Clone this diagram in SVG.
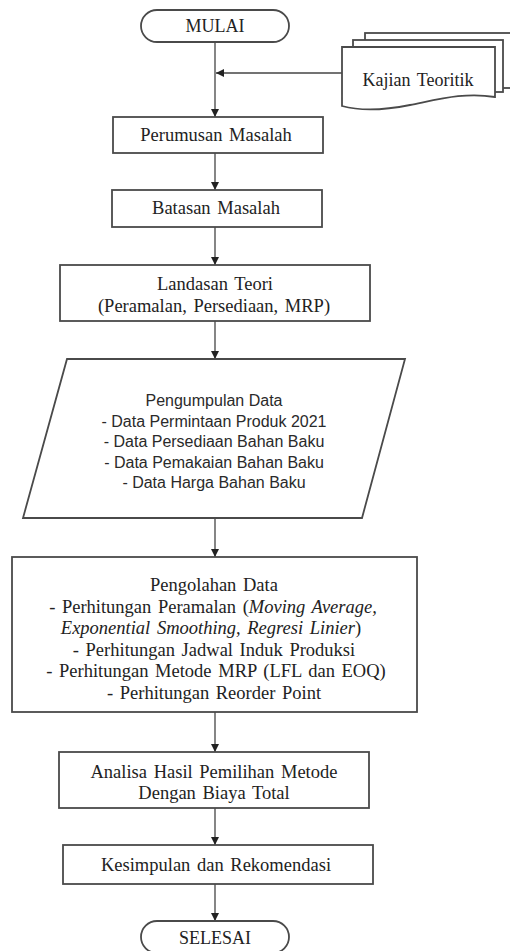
<svg xmlns="http://www.w3.org/2000/svg" width="510" height="951" viewBox="0 0 510 951">
<style>
.box{fill:#fff;stroke:#4a4a4a;stroke-width:1.8}
.t{font-family:"Liberation Serif","Times New Roman",serif;font-size:18.5px;fill:#222;text-anchor:middle;word-spacing:2px}
.s{font-family:"Liberation Sans",Arial,sans-serif;font-size:16px;fill:#2a2a2a;text-anchor:middle}
.i{font-style:italic}
.ln{stroke:#444;stroke-width:1.3;fill:none}
</style>
<defs>
<marker id="ah" markerUnits="userSpaceOnUse" markerWidth="8" markerHeight="8" refX="8" refY="4" orient="auto">
<path d="M0,0 L8,4 L0,8 z" fill="#222"/>
</marker>
</defs>
<rect width="510" height="951" fill="#fff"/>
<g id="connectors">
<line class="ln" x1="215" y1="42" x2="215" y2="117" marker-end="url(#ah)"/>
<line class="ln" x1="342" y1="73" x2="216" y2="73" marker-end="url(#ah)"/>
<line class="ln" x1="215" y1="153" x2="215" y2="190" marker-end="url(#ah)"/>
<line class="ln" x1="215" y1="227" x2="215" y2="265" marker-end="url(#ah)"/>
<line class="ln" x1="215" y1="321" x2="215" y2="359" marker-end="url(#ah)"/>
<line class="ln" x1="215" y1="518" x2="215" y2="557" marker-end="url(#ah)"/>
<line class="ln" x1="215" y1="712" x2="215" y2="752" marker-end="url(#ah)"/>
<line class="ln" x1="215" y1="808" x2="215" y2="845" marker-end="url(#ah)"/>
<line class="ln" x1="215" y1="884" x2="215" y2="921" marker-end="url(#ah)"/>
</g>
<g id="mulai">
<rect class="box" x="141" y="10" width="148" height="32" rx="16" ry="16"/>
<text class="t" x="215" y="32" style="font-size:18px">MULAI</text>
</g>
<g id="kajian">
<rect class="box" x="365" y="33" width="150" height="55"/>
<rect class="box" x="353" y="40" width="150" height="52"/>
<path class="box" d="M342,47 H495 V97 C465,92 440,99 410,105 C380,111 360,111 342,106 Z"/>
<text class="t" x="418" y="86" style="font-size:18px">Kajian Teoritik</text>
</g>
<g id="perumusan">
<rect class="box" x="113" y="117" width="210" height="36"/>
<text class="t" x="216" y="141">Perumusan Masalah</text>
</g>
<g id="batasan">
<rect class="box" x="112" y="190" width="210" height="37"/>
<text class="t" x="216" y="214">Batasan Masalah</text>
</g>
<g id="landasan">
<rect class="box" x="60" y="265" width="310" height="56"/>
<text class="t" x="215" y="290">Landasan Teori</text>
<text class="t" x="214" y="312">(Peramalan, Persediaan, MRP)</text>
</g>
<g id="pengumpulan">
<polygon class="box" points="67,359 405,359 362,518 23,518"/>
<text class="s" x="214" y="406">Pengumpulan Data</text>
<text class="s" x="214" y="426.5">- Data Permintaan Produk 2021</text>
<text class="s" x="214" y="447">- Data Persediaan Bahan Baku</text>
<text class="s" x="214" y="467.5">- Data Pemakaian Bahan Baku</text>
<text class="s" x="214" y="488">- Data Harga Bahan Baku</text>
</g>
<g id="pengolahan">
<rect class="box" x="12" y="557" width="405" height="155"/>
<text class="t" x="214" y="591">Pengolahan Data</text>
<text class="t" x="213" y="612.5">- Perhitungan Peramalan (<tspan class="i">Moving Average,</tspan></text>
<text class="t" x="211" y="634"><tspan class="i">Exponential Smoothing, Regresi Linier</tspan>)</text>
<text class="t" x="214" y="655.5">- Perhitungan Jadwal Induk Produksi</text>
<text class="t" x="216" y="677">- Perhitungan Metode MRP (LFL dan EOQ)</text>
<text class="t" x="214" y="698.5">- Perhitungan Reorder Point</text>
</g>
<g id="analisa">
<rect class="box" x="59" y="752" width="310" height="56"/>
<text class="t" x="214" y="778">Analisa Hasil Pemilihan Metode</text>
<text class="t" x="214" y="799">Dengan Biaya Total</text>
</g>
<g id="kesimpulan">
<rect class="box" x="63" y="845" width="310" height="39"/>
<text class="t" x="216" y="871">Kesimpulan dan Rekomendasi</text>
</g>
<g id="selesai">
<rect class="box" x="141" y="921" width="148" height="32" rx="16" ry="16"/>
<text class="t" x="215" y="944" style="font-size:18px">SELESAI</text>
</g>
</svg>
